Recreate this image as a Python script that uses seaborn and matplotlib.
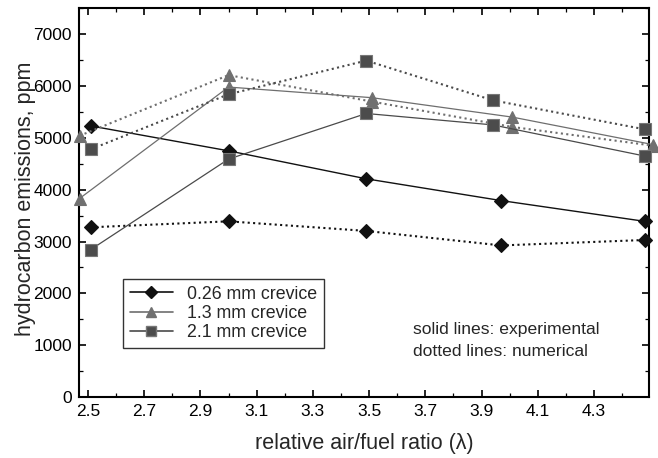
import matplotlib
matplotlib.use("Agg")
import matplotlib.pyplot as plt
from matplotlib.lines import Line2D
from matplotlib.ticker import MultipleLocator
import pandas as pd
import seaborn as sns

# Hydrocarbon emissions vs relative air/fuel ratio for three crevice sizes
labels = ["0.26 mm crevice", "1.3 mm crevice", "2.1 mm crevice"]

lam_026 = [2.51, 3.00, 3.49, 3.97, 4.48]
exp_026 = [5230, 4750, 4210, 3790, 3390]
num_026 = [3275, 3390, 3205, 2925, 3030]

lam_13 = [2.47, 3.00, 3.51, 4.01, 4.51]
exp_13 = [3830, 5980, 5775, 5400, 4870]
num_13 = [5040, 6210, 5700, 5210, 4850]

lam_21 = [2.51, 3.00, 3.49, 3.94, 4.48]
exp_21 = [2845, 4590, 5470, 5250, 4650]
num_21 = [4780, 5840, 6490, 5725, 5165]

x_ticks = [2.5, 2.7, 2.9, 3.1, 3.3, 3.5, 3.7, 3.9, 4.1, 4.3]
y_ticks = [0, 1000, 2000, 3000, 4000, 5000, 6000, 7000]

sns.set_style("ticks")
plt.rcParams["font.family"] = ["Liberation Sans", "DejaVu Sans"]

fig = plt.figure(figsize=(6.58, 4.58), dpi=100)
ax = fig.add_axes([0.120, 0.133, 0.866, 0.849])

styles = [
    dict(marker="D", color="#111111", mfc="#111111", mec="#111111", ms=7.3, lms=6.3, lw=1.0),
    dict(marker="^", color="#6e6e6e", mfc="#707070", mec="#707070", ms=8.5, lms=7.5, lw=0.9),
    dict(marker="s", color="#4a4a4a", mfc="#4c4c4c", mec="#777777", ms=8.5, lms=7, lw=0.9),
]
series = [
    (lam_026, exp_026, num_026),
    (lam_13, exp_13, num_13),
    (lam_21, exp_21, num_21),
]

for (lam, ex, nu), st in zip(series, styles):
    for vals, ls in ((nu, (0, (1, 1.6))), (ex, "-")):
        df = pd.DataFrame({"lam": lam, "ppm": vals})
        sns.lineplot(data=df, x="lam", y="ppm", ax=ax, sort=False,
                     color=st["color"], linewidth=st["lw"] if ls == "-" else 1.5,
                     linestyle=ls, marker=st["marker"], markersize=st["ms"],
                     markerfacecolor=st["mfc"], markeredgecolor=st["mec"],
                     markeredgewidth=0.8, legend=False, clip_on=False, zorder=3)

ax.set_xlim(2.468, 4.495)
ax.set_ylim(0, 7500)
ax.set_xticks(x_ticks)
ax.set_xticklabels([f"{v:.1f}" for v in x_ticks])
ax.set_yticks(y_ticks)
ax.xaxis.set_minor_locator(MultipleLocator(0.1))
ax.yaxis.set_minor_locator(MultipleLocator(500))
ax.tick_params(which="both", direction="in", top=True, right=True,
               labelsize=12.5, width=1.2, colors="black", pad=5)
ax.tick_params(which="major", length=5)
ax.tick_params(which="minor", length=3, width=0.9)
for sp in ax.spines.values():
    sp.set_linewidth(1.5)
    sp.set_color("black")

ax.set_xlabel("relative air/fuel ratio (\u03bb)", fontsize=15.5, labelpad=10)
ax.set_ylabel("hydrocarbon emissions, ppm", fontsize=15.5)
ax.yaxis.set_label_coords(-0.076, 0.51)

handles = [Line2D([], [], color=st["color"], lw=1.2, marker=st["marker"],
                  ms=st["lms"], mfc=st["mfc"], mec=st["mec"])
           for st in styles]
leg = ax.legend(handles, labels, loc="lower left", bbox_to_anchor=(0.077, 0.126),
                borderaxespad=0, fontsize=12.8, frameon=True, fancybox=False,
                edgecolor="black", handlelength=2.4, borderpad=0.4,
                labelspacing=0.12, handletextpad=0.8)
leg.get_frame().set_linewidth(1.0)

ax.text(0.586, 0.175, "solid lines: experimental", transform=ax.transAxes,
        fontsize=12.6, ha="left", va="center")
ax.text(0.586, 0.116, "dotted lines: numerical", transform=ax.transAxes,
        fontsize=12.6, ha="left", va="center")

fig.savefig("out.png", dpi=100)
